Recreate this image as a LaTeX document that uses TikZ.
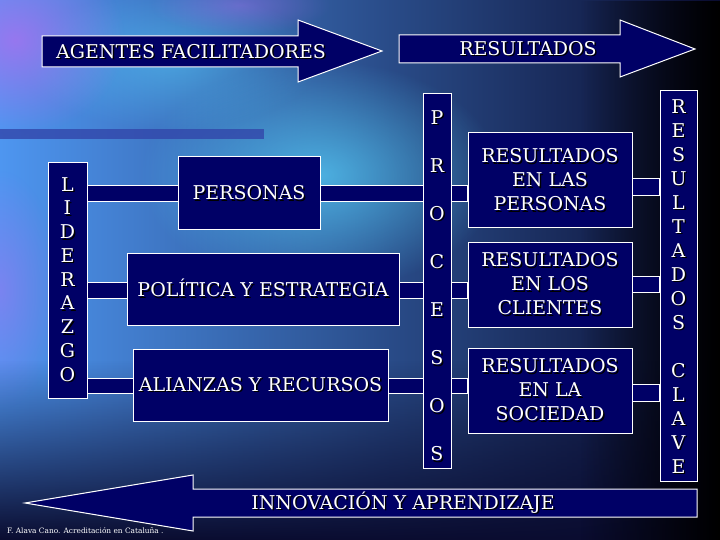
\documentclass[tikz,border=0pt]{standalone}
\usepackage{fontspec}
\setmainfont{DejaVu Serif}
\usetikzlibrary{fadings,backgrounds}
\definecolor{azulcaja}{RGB}{0,0,102}
\definecolor{fondoclaro}{RGB}{78,150,240}
\definecolor{fondomedio}{RGB}{40,84,196}
\definecolor{fondooscuro}{RGB}{10,12,48}
\definecolor{cian}{RGB}{86,205,248}
\definecolor{lila}{RGB}{175,110,240}
\definecolor{azulbanda}{RGB}{50,70,170}
\tikzfading[name=difuso, inner color=transparent!0, outer color=transparent!100]
\newcommand{\sombra}[1]{\leavevmode\rlap{\kern1.4pt\raisebox{-1.4pt}{\color{black}#1}}#1}
\tikzset{
    caja/.style={draw=white, fill=azulcaja, line width=1pt, inner sep=0pt,
        text=white, font=\fontsize{19}{24}\selectfont, align=center},
    letra/.style={text=white, font=\fontsize{19}{20}\selectfont, inner sep=0pt},
    barra/.style={draw=white, fill=azulcaja, line width=1pt},
    flecha/.style={draw=white, fill=azulcaja, line width=1pt, line join=miter},
    rotulo/.style={text=white, font=\fontsize{19}{20}\selectfont, inner sep=0pt}
}

\begin{document}
\begin{tikzpicture}[x=1pt, y=-1pt]
    \useasboundingbox (0,0) rectangle (720,540);
    % fondo
    \begin{pgfonlayer}{background}
        \fill[fondooscuro] (0,0) rectangle (720,540);
        \shade[left color=fondoclaro, middle color=fondomedio, right color=fondooscuro]
            (0,0) rectangle (720,540);
        \fill[cian, opacity=.75, path fading=difuso] (320,175) ellipse (180 and 115);
        \fill[cian, opacity=.5, path fading=difuso] (170,60) ellipse (150 and 70);
        \fill[lila, opacity=.75, path fading=difuso] (15,40) ellipse (110 and 95);
        \fill[lila, opacity=.4, path fading=difuso] (240,5) ellipse (90 and 30);
        \fill[lila, opacity=.45, path fading=difuso] (0,290) ellipse (60 and 120);
        \fill[fondooscuro, path fading=north] (0,360) rectangle (720,540);
        \fill[black, path fading=west] (580,0) rectangle (720,540);
        \fill[azulbanda, opacity=.8] (0,129) rectangle (264,139);
    \end{pgfonlayer}

    % flechas
    \draw[flecha] (42,36) -- (298,36) -- (298,20) -- (382,51) -- (298,82) -- (298,67) -- (42,67) -- cycle;
    \node[rotulo] (agentes) at (191,52) {\sombra{AGENTES FACILITADORES}};
    \draw[flecha] (399,35) -- (620,35) -- (620,20) -- (695,49) -- (620,77) -- (620,63) -- (399,63) -- cycle;
    \node[rotulo] (resultados) at (528,49) {\sombra{RESULTADOS}};
    \draw[flecha] (697,489) -- (193,489) -- (193,475) -- (25,503) -- (193,531) -- (193,517) -- (697,517) -- cycle;
    \node[rotulo] (innovacion) at (403,503) {\sombra{INNOVACIÓN Y APRENDIZAJE}};

    % columnas
    \node[caja, minimum width=39pt, minimum height=235pt] (lid) at (67.5,280.5) {};
    \node[caja, minimum width=28pt, minimum height=374pt] (proc) at (437,281) {};
    \node[caja, minimum width=37pt, minimum height=390pt] (clave) at (678.5,286) {};

    % agentes
    \node[caja, minimum width=142pt, minimum height=73pt] (personas) at (249,193.5) {\sombra{PERSONAS}};
    \node[caja, minimum width=272pt, minimum height=72pt] (politica) at (263,289) {\sombra{POLÍTICA Y ESTRATEGIA}};
    \node[caja, minimum width=255pt, minimum height=72pt] (alianzas) at (260.5,385) {\sombra{ALIANZAS Y RECURSOS}};

    % resultados
    \node[caja, minimum width=164pt, minimum height=95pt] (rper) at (550,180.5)
        {\sombra{RESULTADOS}\\\sombra{EN LAS}\\\sombra{PERSONAS}};
    \node[caja, minimum width=164pt, minimum height=85pt] (rcli) at (550,284.5)
        {\sombra{RESULTADOS}\\\sombra{EN LOS}\\\sombra{CLIENTES}};
    \node[caja, minimum width=164pt, minimum height=85pt] (rsoc) at (550,390.5)
        {\sombra{RESULTADOS}\\\sombra{EN LA}\\\sombra{SOCIEDAD}};

    % letras
    \foreach \l [count=\i] in {L,I,D,E,R,A,Z,G,O}
        \node[letra] (lid-\i) at (67.5,{185+23.75*(\i-1)}) {\sombra{\l}};
    \foreach \l [count=\i] in {P,R,O,C,E,S,O,S}
        \node[letra] (proc-\i) at (437,{118+48.1*(\i-1)}) {\sombra{\l}};
    \foreach \l [count=\i] in {R,E,S,U,L,T,A,D,O,S,{},C,L,A,V,E}
        \node[letra] (clave-\i) at (678.5,{107+24*(\i-1)}) {\sombra{\l}};

    % barras
    \begin{pgfonlayer}{background}
        \draw[barra] (lid.east |- 0,186) rectangle (rper.west |- 0,202);
        \draw[barra] (lid.east |- 0,282) rectangle (rcli.west |- 0,298);
        \draw[barra] (lid.east |- 0,378) rectangle (rsoc.west |- 0,393);
        \draw[barra] (rper.east |- 0,179) rectangle (clave.west |- 0,196);
        \draw[barra] (rcli.east |- 0,276) rectangle (clave.west |- 0,292);
        \draw[barra] (rsoc.east |- 0,384) rectangle (clave.west |- 0,401);
    \end{pgfonlayer}

    \node[text=white, font=\fontsize{7.4}{8}\selectfont, anchor=west, inner sep=0pt] (autor) at (7,531)
        {F. Alava Cano. Acreditación en Cataluña .};
\end{tikzpicture}
\end{document}
